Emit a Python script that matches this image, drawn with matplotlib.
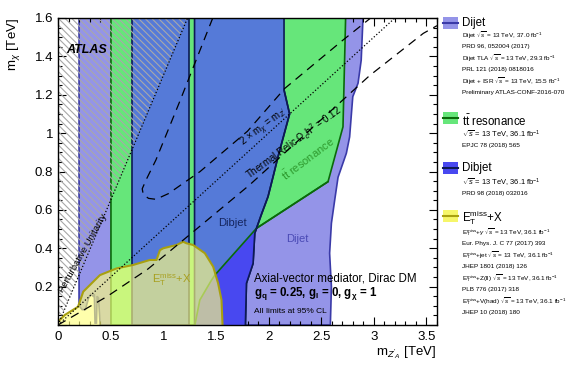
import numpy as np
import matplotlib
matplotlib.use('Agg')
import matplotlib.pyplot as plt
from matplotlib.patches import Polygon, Rectangle
from matplotlib.ticker import MultipleLocator, FuncFormatter
from matplotlib.lines import Line2D

plt.rcParams['font.family'] = ['Liberation Sans', 'DejaVu Sans']
plt.rcParams['mathtext.fontset'] = 'custom'
plt.rcParams['mathtext.rm'] = 'Liberation Sans'
plt.rcParams['mathtext.it'] = 'Liberation Sans:italic'
plt.rcParams['mathtext.bf'] = 'Liberation Sans:bold'
plt.rcParams['hatch.linewidth'] = 0.8

# ---------------- data (TeV) ----------------
dijet_x = [0.20, 0.20, 0.23, 0.26, 0.29, 0.31, 0.335, 0.345, 0.352, 0.365, 0.372, 0.385, 0.395, 0.40,
           2.587, 2.597, 2.58, 2.597, 2.628, 2.66, 2.739, 2.77, 2.787, 2.80, 2.85, 2.88, 2.897]
dijet_y = [1.60, 0.10, 0.08, 0.08, 0.14, 0.16, 0.15, 0.16, 0.01, 0.01, 0.15, 0.14, 0.05, 0.0,
           0.0, 0.20, 0.374, 0.53, 0.65, 0.77, 0.895, 0.98, 1.10, 1.19, 1.26, 1.38, 1.60]

ttbar_x = [0.503, 0.503, 2.732, 2.707, 2.565, 1.885, 1.49, 1.458, 1.347, 1.30]
ttbar_y = [0.0, 1.60, 1.60, 1.033, 0.747, 0.504, 0.26, 0.234, 0.13, 0.0]

dibjet_band1 = [0.699, 1.246]
dibjet_x = [1.297, 1.297, 2.147, 2.147, 2.20, 2.154, 2.09, 2.043, 1.995, 1.93, 1.869, 1.853, 1.79, 1.78]
dibjet_y = [0.0, 1.60, 1.60, 1.225, 1.10, 1.007, 0.877, 0.773, 0.669, 0.573, 0.478, 0.321, 0.217, 0.0]

met_x = [0.0, 0.0, 0.064, 0.19, 0.24, 0.398, 0.557, 0.714, 0.873, 0.936, 0.968, 1.0, 1.126, 1.189,
         1.22, 1.284, 1.395, 1.474, 1.521, 1.553, 1.563]
met_y = [0.0, 0.017, 0.052, 0.095, 0.174, 0.26, 0.295, 0.313, 0.339, 0.339, 0.39, 0.40, 0.417, 0.434,
         0.426, 0.417, 0.374, 0.304, 0.217, 0.13, 0.0]

relic1_x = [1.47, 1.16, 0.93, 0.84, 0.80, 0.81, 0.86, 0.93, 1.05, 1.35, 1.80, 2.154, 2.707, 2.97]
relic1_y = [1.60, 1.17, 0.86, 0.76, 0.71, 0.68, 0.66, 0.655, 0.685, 0.80, 1.01, 1.233, 1.485, 1.60]
relic2_x = [0.0, 0.47, 0.85, 1.03, 1.82, 2.96, 3.47, 3.60]
relic2_y = [0.0, 0.15, 0.29, 0.37, 0.73, 1.30, 1.52, 1.56]

unitarity_slope = 1.3
resonance_slope = 0.5

# ---------------- colours ----------------
c_dijet = '#9494e8'; e_dijet = '#3a3aa8'
c_ttbar = '#66e67a'; e_ttbar = '#0a6a0a'
c_dibjet = '#557ad8'; c_dibjet_pure = '#4848f0'; e_dibjet = '#0d1a55'
c_met = '#ffff80'; e_met = '#a8a010'

W, H = 581, 371
fig = plt.figure(figsize=(W/100, H/100), dpi=100)
ax = fig.add_axes([58/W, 46/H, 379/W, 307/H])
ax.set_xlim(0, 3.6)
ax.set_ylim(0, 1.6)

ax.add_patch(Polygon(np.column_stack([dijet_x, dijet_y]), closed=True, fc=c_dijet, ec=e_dijet, lw=1.2, zorder=1))
ax.add_patch(Polygon(np.column_stack([ttbar_x, ttbar_y]), closed=True, fc=c_ttbar, ec=e_ttbar, lw=1.2, zorder=2))
b0, b1 = dibjet_band1
ax.add_patch(Polygon([[b0, 0], [b1, 0], [b1, 1.6], [b0, 1.6]], closed=True, fc=c_dibjet, ec=e_dibjet, lw=1.2, zorder=3))
ax.add_patch(Polygon(np.column_stack([dibjet_x, dibjet_y]), closed=True, fc=c_dibjet, ec=e_dibjet, lw=1.2, zorder=3))
tlow_x = ttbar_x[5:][::-1]; tlow_y = ttbar_y[5:][::-1]
dlow = [(x, y) for x, y in zip(dibjet_x, dibjet_y) if y < 0.504 and x > 1.5]
pure = list(zip(tlow_x, tlow_y)) + dlow
ax.add_patch(Polygon(pure, closed=True, fc=c_dibjet_pure, ec='none', zorder=3.5))
ax.plot(ttbar_x[4:], ttbar_y[4:], color=e_ttbar, lw=1.2, zorder=4)
ax.plot(dibjet_x[3:], dibjet_y[3:], color=e_dibjet, lw=1.2, zorder=4)

ytop = 1.6
ax.add_patch(Polygon([[0, 0], [ytop/unitarity_slope, ytop], [0, ytop]], closed=True, fc='none',
                     ec='#a8a8a8', lw=0, hatch='\\\\\\\\\\', zorder=4.5))

ax.add_patch(Polygon(np.column_stack([met_x, met_y]), closed=True, fc=c_met, alpha=0.65, ec='none', zorder=5))
ax.plot(met_x[1:], met_y[1:], color=e_met, lw=1.5, zorder=5.5)

xx = np.array([0, ytop/unitarity_slope])
ax.plot(xx, unitarity_slope*xx, ls=':', color='k', lw=0.9, zorder=6)
xx = np.array([0, 3.6])
ax.plot(xx, resonance_slope*xx, ls=':', color='k', lw=0.9, zorder=6)
ax.plot(relic1_x, relic1_y, ls=(0, (7, 5)), color='k', lw=0.9, zorder=6)
ax.plot(relic2_x, relic2_y, ls=(0, (7, 5)), color='k', lw=0.9, zorder=6)

ax.xaxis.set_major_locator(MultipleLocator(0.5))
ax.xaxis.set_minor_locator(MultipleLocator(0.1))
ax.yaxis.set_major_locator(MultipleLocator(0.2))
ax.yaxis.set_minor_locator(MultipleLocator(0.05))
ax.xaxis.set_major_formatter(FuncFormatter(lambda v, p: '%g' % round(v, 3)))
ax.yaxis.set_major_formatter(FuncFormatter(lambda v, p: '' if abs(v) < 1e-6 else '%g' % round(v, 3)))
ax.tick_params(which='both', direction='in', top=True, right=True, labelsize=9.5, width=0.8)
ax.tick_params(which='major', length=6)
ax.tick_params(which='minor', length=3)
ax.tick_params(axis='x', pad=4)
for s in ax.spines.values():
    s.set_linewidth(1.0)
    s.set_zorder(10)

fig.text(13/W, 1-18/H, r'm$_{\chi}$ [TeV]', rotation=90, ha='center', va='top', fontsize=9.5)
fig.text(436/W, 1-353/H, r"m$_{Z'_{A}}$ [TeV]", ha='right', va='center', fontsize=9.5)

ax.text(0.08, 1.435, 'ATLAS', fontsize=9, fontweight='bold', style='italic', va='center', zorder=8)
ax.text(0.24, 0.375, 'Perturbative Unitarity', rotation=60.5, fontsize=6.8, ha='center', va='center', zorder=8)
ax.text(1.96, 1.03, r"2 $\times$ m$_{\chi}$ = m$_{Z'}$", rotation=37, fontsize=7, ha='center', va='center', zorder=8)
ax.text(2.24, 0.95, r'Thermal Relic $\Omega_c$h$^2$ = 0.12', rotation=36, fontsize=7, ha='center', va='center', zorder=8)
ax.text(2.37, 0.87, r'$\mathrm{t\bar{t}}$ resonance', rotation=37, fontsize=8, color='#2e9a2e', ha='center', va='center', zorder=8)
ax.text(1.656, 0.53, 'Dibjet', fontsize=8, color='#15255e', ha='center', va='center', zorder=8)
ax.text(2.27, 0.45, 'Dijet', fontsize=8, color='#4a4ab5', ha='center', va='center', zorder=8)
ax.text(1.08, 0.235, r'E$_\mathrm{T}^\mathrm{miss}$+X', fontsize=8, color='#a8a020', ha='center', va='center', zorder=8)
ax.text(1.86, 0.24, 'Axial-vector mediator, Dirac DM', fontsize=8.3, ha='left', va='center', zorder=8)
ax.text(1.86, 0.165, r'$\mathbf{g_q}$ = 0.25, $\mathbf{g_l}$ = 0, $\mathbf{g_{\chi}}$ = 1', fontsize=8.3,
        fontweight='bold', ha='left', va='center', zorder=8)
ax.text(1.86, 0.07, 'All limits at 95% CL', fontsize=6, ha='left', va='center', zorder=8)

def swatch(y0, fc, lc):
    fig.patches.append(Rectangle((443/W, 1-(y0+12)/H), 15/W, 12/H, transform=fig.transFigure,
                                 fc=fc, ec='none'))
    fig.lines.append(Line2D([443/W, 458/W], [1-(y0+6)/H]*2, transform=fig.transFigure, color=lc, lw=1.5))

def ftxt(x, y, s, fs, **kw):
    fig.text(x/W, 1-y/H, s, fontsize=fs, ha='left', va='center', **kw)

sq = r'$\sqrt{s}$'
fs_s = 4.6
swatch(17, c_dijet, e_dijet)
ftxt(462, 23, 'Dijet', 8.3)
ftxt(462, 35, 'Dijet ' + sq + ' = 13 TeV, 37.0 fb$^{-1}$', fs_s)
ftxt(462, 46.5, 'PRD 96, 052004 (2017)', fs_s)
ftxt(462, 58, 'Dijet TLA ' + sq + ' = 13 TeV, 29.3 fb$^{-1}$', fs_s)
ftxt(462, 69.5, 'PRL 121 (2018) 0818016', fs_s)
ftxt(462, 81, 'Dijet + ISR ' + sq + ' = 13 TeV, 15.5 fb$^{-1}$', fs_s)
ftxt(462, 92.5, 'Preliminary ATLAS-CONF-2016-070', fs_s)

swatch(112, c_ttbar, e_ttbar)
ftxt(462, 121, r'$\mathrm{t\bar{t}}$ resonance', 8.3)
ftxt(462, 135, sq + ' = 13 TeV, 36.1 fb$^{-1}$', 5.4)
ftxt(462, 146, 'EPJC 78 (2018) 565', fs_s)

swatch(162, c_dibjet_pure, e_dibjet)
ftxt(462, 168, 'Dibjet', 8.3)
ftxt(462, 183, sq + ' = 13 TeV, 36.1 fb$^{-1}$', 5.4)
ftxt(462, 194, 'PRD 98 (2018) 032016', fs_s)

swatch(210, '#f6f66a', e_met)
ftxt(462, 218, r'E$_\mathrm{T}^\mathrm{miss}$+X', 8.3)
ftxt(462, 232, r'E$_\mathrm{T}^\mathrm{miss}$+$\gamma$ ' + sq + ' = 13 TeV, 36.1 fb$^{-1}$', fs_s)
ftxt(462, 243.5, 'Eur. Phys. J. C 77 (2017) 393', fs_s)
ftxt(462, 255, r'E$_\mathrm{T}^\mathrm{miss}$+jet ' + sq + ' = 13 TeV, 36.1 fb$^{-1}$', fs_s)
ftxt(462, 266.5, 'JHEP 1801 (2018) 126', fs_s)
ftxt(462, 278, r'E$_\mathrm{T}^\mathrm{miss}$+Z(ll) ' + sq + ' = 13 TeV, 36.1 fb$^{-1}$', fs_s)
ftxt(462, 289.5, 'PLB 776 (2017) 318', fs_s)
ftxt(462, 301, r'E$_\mathrm{T}^\mathrm{miss}$+V(had) ' + sq + ' = 13 TeV, 36.1 fb$^{-1}$', fs_s)
ftxt(462, 312.5, 'JHEP 10 (2018) 180', fs_s)

fig.savefig('out.png', dpi=100)
